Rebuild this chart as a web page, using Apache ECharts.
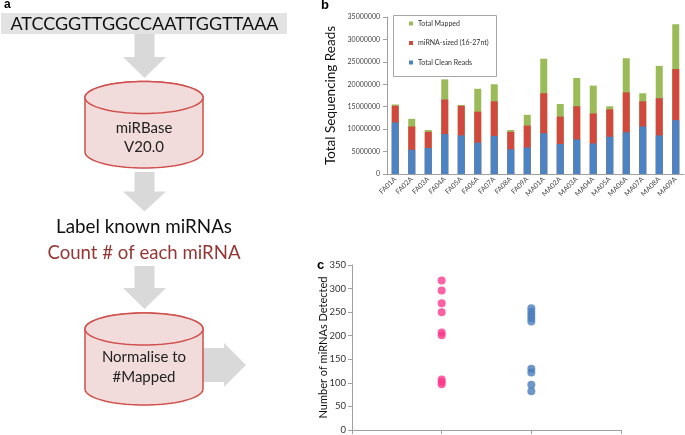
<!DOCTYPE html>
<html><head><meta charset="utf-8">
<script src="https://cdn.jsdelivr.net/npm/echarts@6/dist/echarts.min.js"></script>
<style>html,body{margin:0;padding:0;background:#fff}#c{width:685px;height:435px}</style>
</head><body><div id="c"></div>
<script>
// ---- Panel b data ----
const samples = ['FA01A','FA02A','FA03A','FA04A','FA05A','FA06A','FA07A','FA08A','FA09A','MA01A','MA02A','MA03A','MA04A','MA05A','MA06A','MA07A','MA08A','MA09A'];
const totalMapped = [15500000,12300000,9800000,21100000,15400000,19000000,20000000,9800000,13200000,25700000,15600000,21400000,19700000,15100000,25800000,18000000,24100000,33400000];
const mirnaSized  = [15200000,10600000,9400000,16600000,15200000,13900000,16200000,9400000,10800000,18000000,12800000,15100000,13500000,14400000,18200000,16200000,16900000,23400000];
const cleanReads  = [11500000,5400000,5800000,8900000,8600000,7000000,8500000,5500000,5900000,9100000,6700000,7700000,6800000,8300000,9300000,10600000,8600000,12000000];
const seriesNamesB = ['Total Mapped','miRNA-sized (16-27nt)','Total Clean Reads'];
const yTicksB = [0,5000000,10000000,15000000,20000000,25000000,30000000,35000000];

// ---- Panel c data ----
const groupPos = [1, 2];
const femaleCounts = [317,296,269,250,207,201,107,102,97];
const maleCounts   = [258,251,244,237,230,130,122,96,82];
const yTicksC = [0,50,100,150,200,250,300,350];

const FONT = 'Lato, "Open Sans", sans-serif';
const arrowFill = '#d9d9d9';
const cylFill = '#f2dcdb';
const cylStroke = '#d0504d';

function downArrow(cx, y0, yHead, yTip){
  return {type:'polygon', z:1, shape:{points:[[cx-10,y0],[cx+10,y0],[cx+10,yHead],[cx+21.5,yHead],[cx,yTip],[cx-21.5,yHead],[cx-10,yHead]]}, style:{fill:arrowFill}};
}
function ellipsePts(cx, cy, rx, ry, a0, a1, n){
  const p=[]; for(let i=0;i<=n;i++){const a=a0+(a1-a0)*i/n; p.push([cx+rx*Math.cos(a), cy+ry*Math.sin(a)]);} return p;
}
function cylinder(x0, x1, yTop, yBot, ry){
  const cx=(x0+x1)/2, rx=(x1-x0)/2, cyT=yTop+ry, cyB=yBot-ry;
  const body = [].concat(ellipsePts(cx,cyT,rx,ry,Math.PI,2*Math.PI,40), ellipsePts(cx,cyB,rx,ry,0,Math.PI,40));
  const top = ellipsePts(cx,cyT,rx,ry,0,2*Math.PI,80);
  return [
    {type:'polygon', z:2, shape:{points:body}, style:{fill:cylFill, stroke:cylStroke, lineWidth:1.5}},
    {type:'polygon', z:3, shape:{points:top}, style:{fill:cylFill, stroke:cylStroke, lineWidth:1.5}}
  ];
}
function txt(x, y, s, size, color, align, weight){
  return {type:'text', z:5, x:x, y:y, style:{text:s, font:(weight||'normal')+' '+size+'px '+FONT, fill:color||'#111', align:align||'center', verticalAlign:'middle'}};
}

const graphics = [
  {type:'text', z:5, x:4, y:5, style:{text:'a', font:'bold 12px Arial, "Liberation Sans"', fill:'#000', verticalAlign:'middle'}},
  {type:'text', z:5, x:321, y:5, style:{text:'b', font:'bold 13px Arial, "Liberation Sans"', fill:'#000', verticalAlign:'middle'}},
  {type:'text', z:5, x:317, y:265, style:{text:'c', font:'bold 13px Arial, "Liberation Sans"', fill:'#000', verticalAlign:'middle'}},
  {type:'rect', z:0, shape:{x:1, y:13, width:286, height:21}, style:{fill:'#e3e3e3'}},
  txt(144.5, 24, 'ATCCGGTTGGCCAATTGGTTAAA', 18, '#111'),
  downArrow(144.5, 34, 57, 78),
  ...cylinder(85, 203, 81.5, 168, 16),
  txt(144, 128, 'miRBase', 15, '#222'),
  txt(144, 147, 'V20.0', 15, '#222'),
  downArrow(144.5, 172, 191.5, 211.5),
  txt(144, 227, 'Label known miRNAs', 18.8, '#111'),
  txt(144, 253, 'Count # of each miRNA', 18.6, '#943634'),
  downArrow(144.5, 266, 288, 309),
  ...cylinder(85, 203, 313, 405, 16),
  txt(144, 357, 'Normalise to', 15, '#222'),
  txt(144, 377, '#Mapped', 15, '#222'),
  {type:'polygon', z:1, shape:{points:[[203,348],[224,348],[224,343],[246,365],[224,387],[224,382],[203,382]]}, style:{fill:arrowFill}},
  {type:'rect', z:10, shape:{x:393.5, y:15.5, width:103, height:61}, style:{fill:'#fff', stroke:'#a6a6a6', lineWidth:1}}
];

const axisLabelB = {fontSize:7, color:'#444', fontFamily:FONT};
const chart = echarts.init(document.getElementById('c'), null, {renderer:'canvas'});
chart.setOption({
  animation:false,
  textStyle:{fontFamily:FONT},
  graphic: graphics,
  legend:{
    z:20, orient:'vertical', left:409, top:20, itemWidth:4, itemHeight:4, itemGap:12.5,
    icon:'rect', data:seriesNamesB, textStyle:{fontSize:7, color:'#333', fontFamily:FONT},
    padding:0
  },
  grid:[
    {left:387, top:17, width:297, height:157},
    {left:352, top:265, width:269, height:166}
  ],
  xAxis:[
    {gridIndex:0, type:'category', data:samples,
     axisLine:{lineStyle:{color:'#a0a0a0'}}, axisTick:{length:3, lineStyle:{color:'#a0a0a0'}},
     axisLabel:Object.assign({rotate:45, margin:4, interval:0}, axisLabelB)},
    {gridIndex:1, type:'value', min:0, max:3, interval:1,
     axisLine:{lineStyle:{color:'#a0a0a0'}}, axisTick:{show:true, length:4, lineStyle:{color:'#a0a0a0'}},
     axisLabel:{show:false}, splitLine:{show:false}}
  ],
  yAxis:[
    {gridIndex:0, type:'value', min:yTicksB[0], max:yTicksB[yTicksB.length-1], interval:yTicksB[1]-yTicksB[0],
     name:'Total Sequencing Reads', nameLocation:'middle', nameGap:49, nameRotate:90, nameMoveOverlap:false,
     nameTextStyle:{fontSize:13.5, color:'#111', fontFamily:FONT},
     axisLine:{show:true, lineStyle:{color:'#a0a0a0'}}, axisTick:{show:true, length:4, lineStyle:{color:'#a0a0a0'}},
     axisLabel:Object.assign({margin:7, formatter:v=>String(v)}, axisLabelB), splitLine:{show:false}},
    {gridIndex:1, type:'value', min:yTicksC[0], max:yTicksC[yTicksC.length-1], interval:yTicksC[1]-yTicksC[0],
     name:'Number of miRNAs Detected', nameLocation:'middle', nameGap:23, nameRotate:90, nameMoveOverlap:false,
     nameTextStyle:{fontSize:11, color:'#111', fontFamily:FONT},
     axisLine:{show:true, lineStyle:{color:'#a0a0a0'}}, axisTick:{show:true, length:4, lineStyle:{color:'#a0a0a0'}},
     axisLabel:{fontSize:9.5, color:'#333', margin:6, fontFamily:FONT}, splitLine:{show:false}}
  ],
  series:[
    {name:seriesNamesB[0], type:'bar', xAxisIndex:0, yAxisIndex:0, data:totalMapped, barWidth:7, barGap:'-100%', itemStyle:{color:'#9bbb59'}},
    {name:seriesNamesB[1], type:'bar', xAxisIndex:0, yAxisIndex:0, data:mirnaSized, barWidth:7, barGap:'-100%', itemStyle:{color:'#d0483e'}},
    {name:seriesNamesB[2], type:'bar', xAxisIndex:0, yAxisIndex:0, data:cleanReads, barWidth:7, barGap:'-100%', itemStyle:{color:'#4a84c4'}},
    {type:'scatter', xAxisIndex:1, yAxisIndex:1, symbolSize:8, itemStyle:{color:'#fa3a8c'},
     data:femaleCounts.map(v=>[groupPos[0], v])},
    {type:'scatter', xAxisIndex:1, yAxisIndex:1, symbolSize:8, itemStyle:{color:'#4a7ebb'},
     data:maleCounts.map(v=>[groupPos[1], v])}
  ]
});
</script></body></html>
